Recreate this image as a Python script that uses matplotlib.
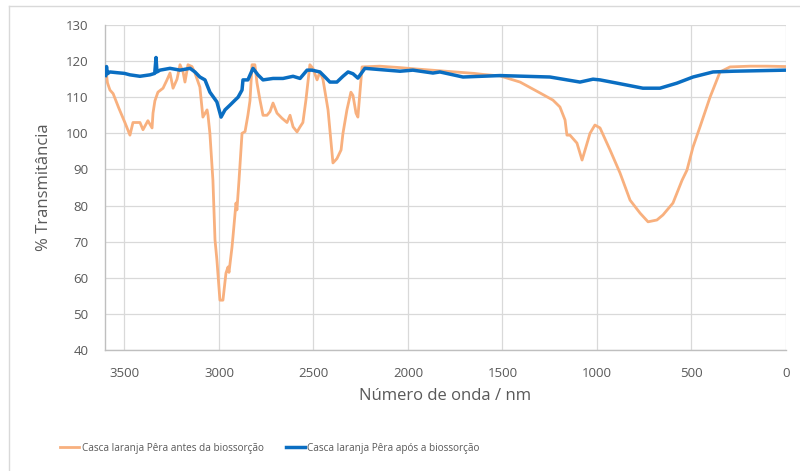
import matplotlib
matplotlib.use("Agg")
import matplotlib.pyplot as plt
from matplotlib.lines import Line2D
from matplotlib import font_manager

# ---------------- data ----------------
wave_antes = [3600, 3590, 3577, 3560, 3530, 3497, 3471, 3455, 3418, 3402, 3376, 3354, 3349, 3339,
              3323, 3296, 3275, 3259, 3243, 3222, 3206, 3190, 3180, 3164, 3143, 3127, 3101,
              3085, 3063, 3058, 3048, 3032, 3021, 3011, 2995, 2979, 2963, 2952, 2947, 2931,
              2926, 2910, 2905, 2894, 2878, 2862, 2847, 2836, 2825, 2810, 2799, 2783, 2767,
              2746, 2730, 2714, 2693, 2667, 2640, 2624, 2608, 2587, 2571, 2556, 2540, 2519,
              2503, 2481, 2466, 2450, 2423, 2397, 2376, 2354, 2344, 2323, 2302, 2291, 2275,
              2265, 2243, 2150, 2042, 1950, 1850, 1750, 1650, 1600, 1513, 1407, 1302, 1233,
              1196, 1169, 1159, 1143, 1106, 1079, 1063, 1037, 1011, 984, 931, 878, 825, 772,
              730, 683, 651, 598, 550, 524, 492, 455, 402, 349, 296, 190, 100, 0]
trans_antes = [118.5, 114.0, 112.0, 111.0, 107.0, 102.9, 99.5, 103.0, 103.0, 101.0, 103.5, 101.5,
               105.6, 109.0, 111.4, 112.5, 114.8, 116.7, 112.5, 115.0, 119.0, 117.0, 114.2,
               119.0, 118.5, 116.7, 112.8, 104.5, 106.5, 105.0, 100.0, 87.0, 70.5, 65.0, 53.8,
               53.8, 61.3, 63.0, 61.5, 68.5, 71.3, 80.7, 78.8, 87.0, 100.0, 100.5, 105.0,
               109.0, 119.0, 119.0, 114.0, 109.2, 105.0, 105.0, 106.0, 108.4, 105.6, 104.2,
               103.0, 105.0, 101.8, 100.4, 101.8, 103.0, 109.2, 119.0, 118.0, 114.8, 117.0,
               115.0, 106.5, 91.8, 93.0, 95.4, 100.0, 106.5, 111.4, 110.5, 105.6, 104.5,
               118.4, 118.6, 118.2, 117.8, 117.4, 117.0, 116.6, 116.3, 115.9, 114.2, 111.2,
               109.2, 107.3, 103.7, 99.5, 99.5, 97.3, 92.6, 95.4, 100.0, 102.3, 101.5, 95.4,
               89.0, 81.5, 77.9, 75.5, 76.0, 77.4, 80.7, 87.0, 89.8, 96.2, 101.8, 110.0, 117.0,
               118.4, 118.6, 118.6, 118.5]

wave_apos = [3600, 3595, 3590, 3577, 3540, 3500, 3471, 3418, 3365, 3340, 3333, 3328, 3312, 3259,
             3206, 3153, 3127, 3101, 3074, 3048, 3011, 2989, 2968, 2942, 2915, 2899, 2878,
             2873, 2847, 2820, 2794, 2767, 2714, 2661, 2608, 2571, 2534, 2508, 2466, 2439,
             2413, 2376, 2344, 2317, 2291, 2265, 2228, 2042, 1974, 1868, 1831, 1709, 1513,
             1249, 1090, 1021, 984, 894, 757, 667, 577, 492, 386, 280, 0]
trans_apos = [116.0, 118.5, 116.5, 117.0, 116.8, 116.6, 116.2, 115.8, 116.2, 116.6, 121.0, 117.0,
              117.5, 118.0, 117.5, 118.0, 117.0, 115.6, 114.8, 111.4, 108.7, 104.5, 106.5,
              107.8, 109.2, 110.0, 112.0, 114.8, 114.8, 118.0, 116.2, 114.8, 115.2, 115.2,
              115.8, 115.2, 117.5, 117.5, 117.0, 115.6, 114.2, 114.2, 115.8, 117.0, 116.5,
              115.3, 118.0, 117.2, 117.5, 116.7, 117.0, 115.6, 116.0, 115.6, 114.2, 115.0,
              114.8, 113.9, 112.5, 112.5, 113.9, 115.6, 117.0, 117.2, 117.5]

label_antes = "Casca laranja Pêra antes da biossorção"
label_apos = "Casca laranja Pêra após a biossorção"
x_ticks = [3500, 3000, 2500, 2000, 1500, 1000, 500, 0]
y_ticks = [40, 50, 60, 70, 80, 90, 100, 110, 120, 130]

# ---------------- figure ----------------
plt.rcParams['font.family'] = ['Open Sans', 'DejaVu Sans']
installed = {f.name for f in font_manager.fontManager.ttflist}
legend_family = ['Liberation Sans Narrow', 'DejaVu Sans'] if 'Liberation Sans Narrow' in installed \
    else ['Open Sans', 'DejaVu Sans']
legend_size = 9 if 'Liberation Sans Narrow' in installed else 7.2

fig = plt.figure(figsize=(8.0, 4.71), dpi=100)
ax = fig.add_axes([0.13125, 0.2569, 0.85125, 0.6900])

ax.plot(wave_antes, trans_antes, color='#F8B07E', lw=2.0, label=label_antes, zorder=3,
        solid_joinstyle='round')
ax.plot(wave_apos, trans_apos, color='#0A6EC2', lw=2.5, label=label_apos, zorder=4,
        solid_joinstyle='round')

ax.set_xlim(3603, 0)
ax.set_ylim(40, 130)
ax.set_xticks(x_ticks)
ax.set_yticks(y_ticks)
ax.grid(True, color='#D9D9D9', lw=0.9)
ax.set_axisbelow(True)
ax.tick_params(length=0, labelsize=9.5, labelcolor='#595959', pad=12)
for s in ['top', 'right']:
    ax.spines[s].set_visible(False)
for s in ['left', 'bottom']:
    ax.spines[s].set_color('#BFBFBF')
    ax.spines[s].set_linewidth(1.0)

ax.set_xlabel("Número de onda / nm", fontsize=12, color='#595959', labelpad=6)
ax.set_ylabel("% Transmitância", fontsize=12, color='#595959', labelpad=10)

leg = fig.legend(loc='center', bbox_to_anchor=(0.3375, 0.048), ncol=2, frameon=False,
                 prop={'family': legend_family, 'size': legend_size},
                 handlelength=1.9, handletextpad=0.25, columnspacing=2.2)
for t in leg.get_texts():
    t.set_color('#595959')

# outer chart frame
fig.add_artist(Line2D([0.011, 0.011], [0.0, 0.987], transform=fig.transFigure,
                      color='#D9D9D9', lw=1.0))
fig.add_artist(Line2D([0.011, 1.0], [0.987, 0.987], transform=fig.transFigure,
                      color='#D9D9D9', lw=1.0))

fig.savefig("out.png", dpi=100, facecolor='white')
